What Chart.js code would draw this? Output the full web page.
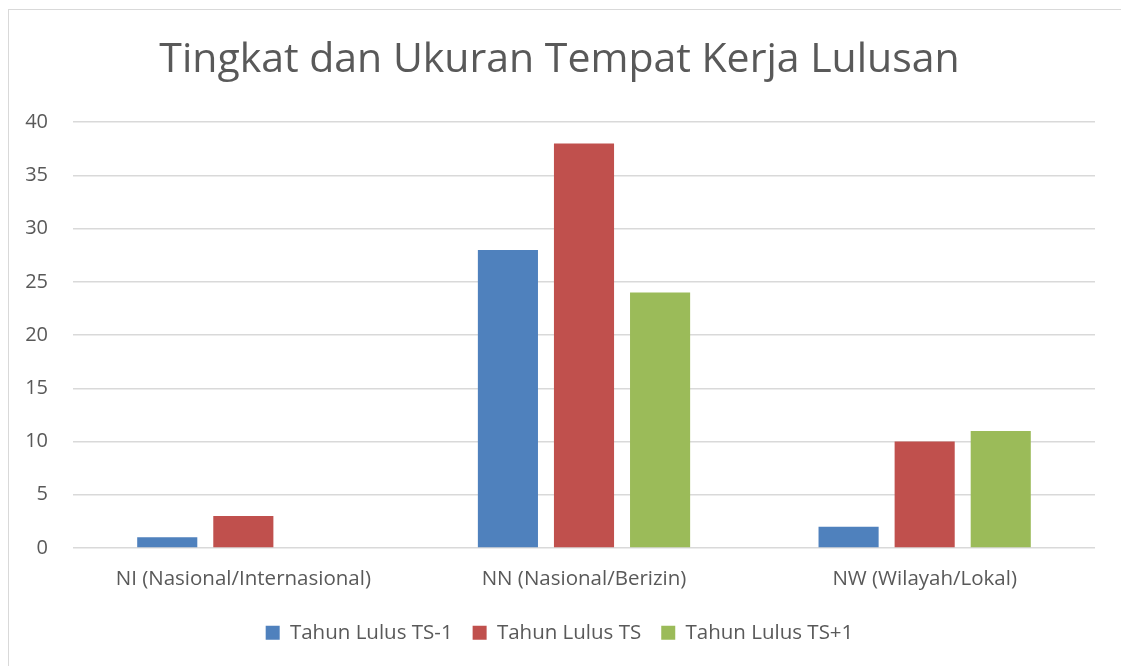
<!DOCTYPE html>
<html>
<head>
<meta charset="utf-8">
<script src="https://cdn.jsdelivr.net/npm/chart.js@4/dist/chart.umd.min.js"></script>
<style>
  html, body { margin: 0; padding: 0; background: #fff; }
  #frame {
    position: absolute; left: 8px; top: 9px;
    width: 1112px; height: 656px;
    border-top: 1px solid #d9d9d9; border-left: 1px solid #d9d9d9;
  }
  #chart { display: block; }
</style>
</head>
<body>
<div id="frame"><canvas id="chart" width="1112" height="656"></canvas></div>
<script>
  // Data
  const categories = ['NI (Nasional/Internasional)', 'NN (Nasional/Berizin)', 'NW (Wilayah/Lokal)'];
  const seriesNames = ['Tahun Lulus TS-1', 'Tahun Lulus TS', 'Tahun Lulus TS+1'];
  const tsMinus1 = [1, 28, 2];
  const ts = [3, 38, 10];
  const tsPlus1 = [0, 24, 11];

  // Office-style palette
  const blue = '#4F81BD';
  const red = '#C0504D';
  const green = '#9BBB59';
  const textColor = '#595959';
  const gridColor = '#d9d9d9';

  Chart.defaults.font.family = "'Open Sans', sans-serif";
  Chart.defaults.color = textColor;

  const barOpts = { categoryPercentage: 0.67, barPercentage: 0.79, borderWidth: 0 };

  new Chart(document.getElementById('chart'), {
    type: 'bar',
    data: {
      labels: categories,
      datasets: [
        { label: seriesNames[0], data: tsMinus1, backgroundColor: blue, ...barOpts },
        { label: seriesNames[1], data: ts, backgroundColor: red, ...barOpts },
        { label: seriesNames[2], data: tsPlus1, backgroundColor: green, ...barOpts }
      ]
    },
    options: {
      responsive: false,
      animation: false,
      layout: { padding: { left: 15, right: 26, top: 26, bottom: 13 } },
      plugins: {
        title: {
          display: true,
          text: 'Tingkat dan Ukuran Tempat Kerja Lulusan',
          font: { size: 41, weight: 'normal' },
          color: textColor,
          padding: { top: 0, bottom: 37 }
        },
        legend: {
          position: 'bottom',
          labels: {
            boxWidth: 14,
            boxHeight: 14,
            padding: 20,
            font: { size: 20.5 },
            color: textColor
          }
        },
        tooltip: { enabled: false }
      },
      scales: {
        x: {
          grid: { display: false },
          border: { display: false },
          ticks: { font: { size: 20.5, lineHeight: 1.0 }, color: textColor, padding: 13, maxRotation: 0 }
        },
        y: {
          min: 0,
          max: 40,
          ticks: { stepSize: 5, font: { size: 20 }, color: textColor, padding: 25 },
          grid: { color: gridColor, lineWidth: 1.5, drawTicks: false },
          border: { display: false },
          afterFit: (scale) => { scale.width = 49; }
        }
      }
    }
  });
</script>
</body>
</html>
